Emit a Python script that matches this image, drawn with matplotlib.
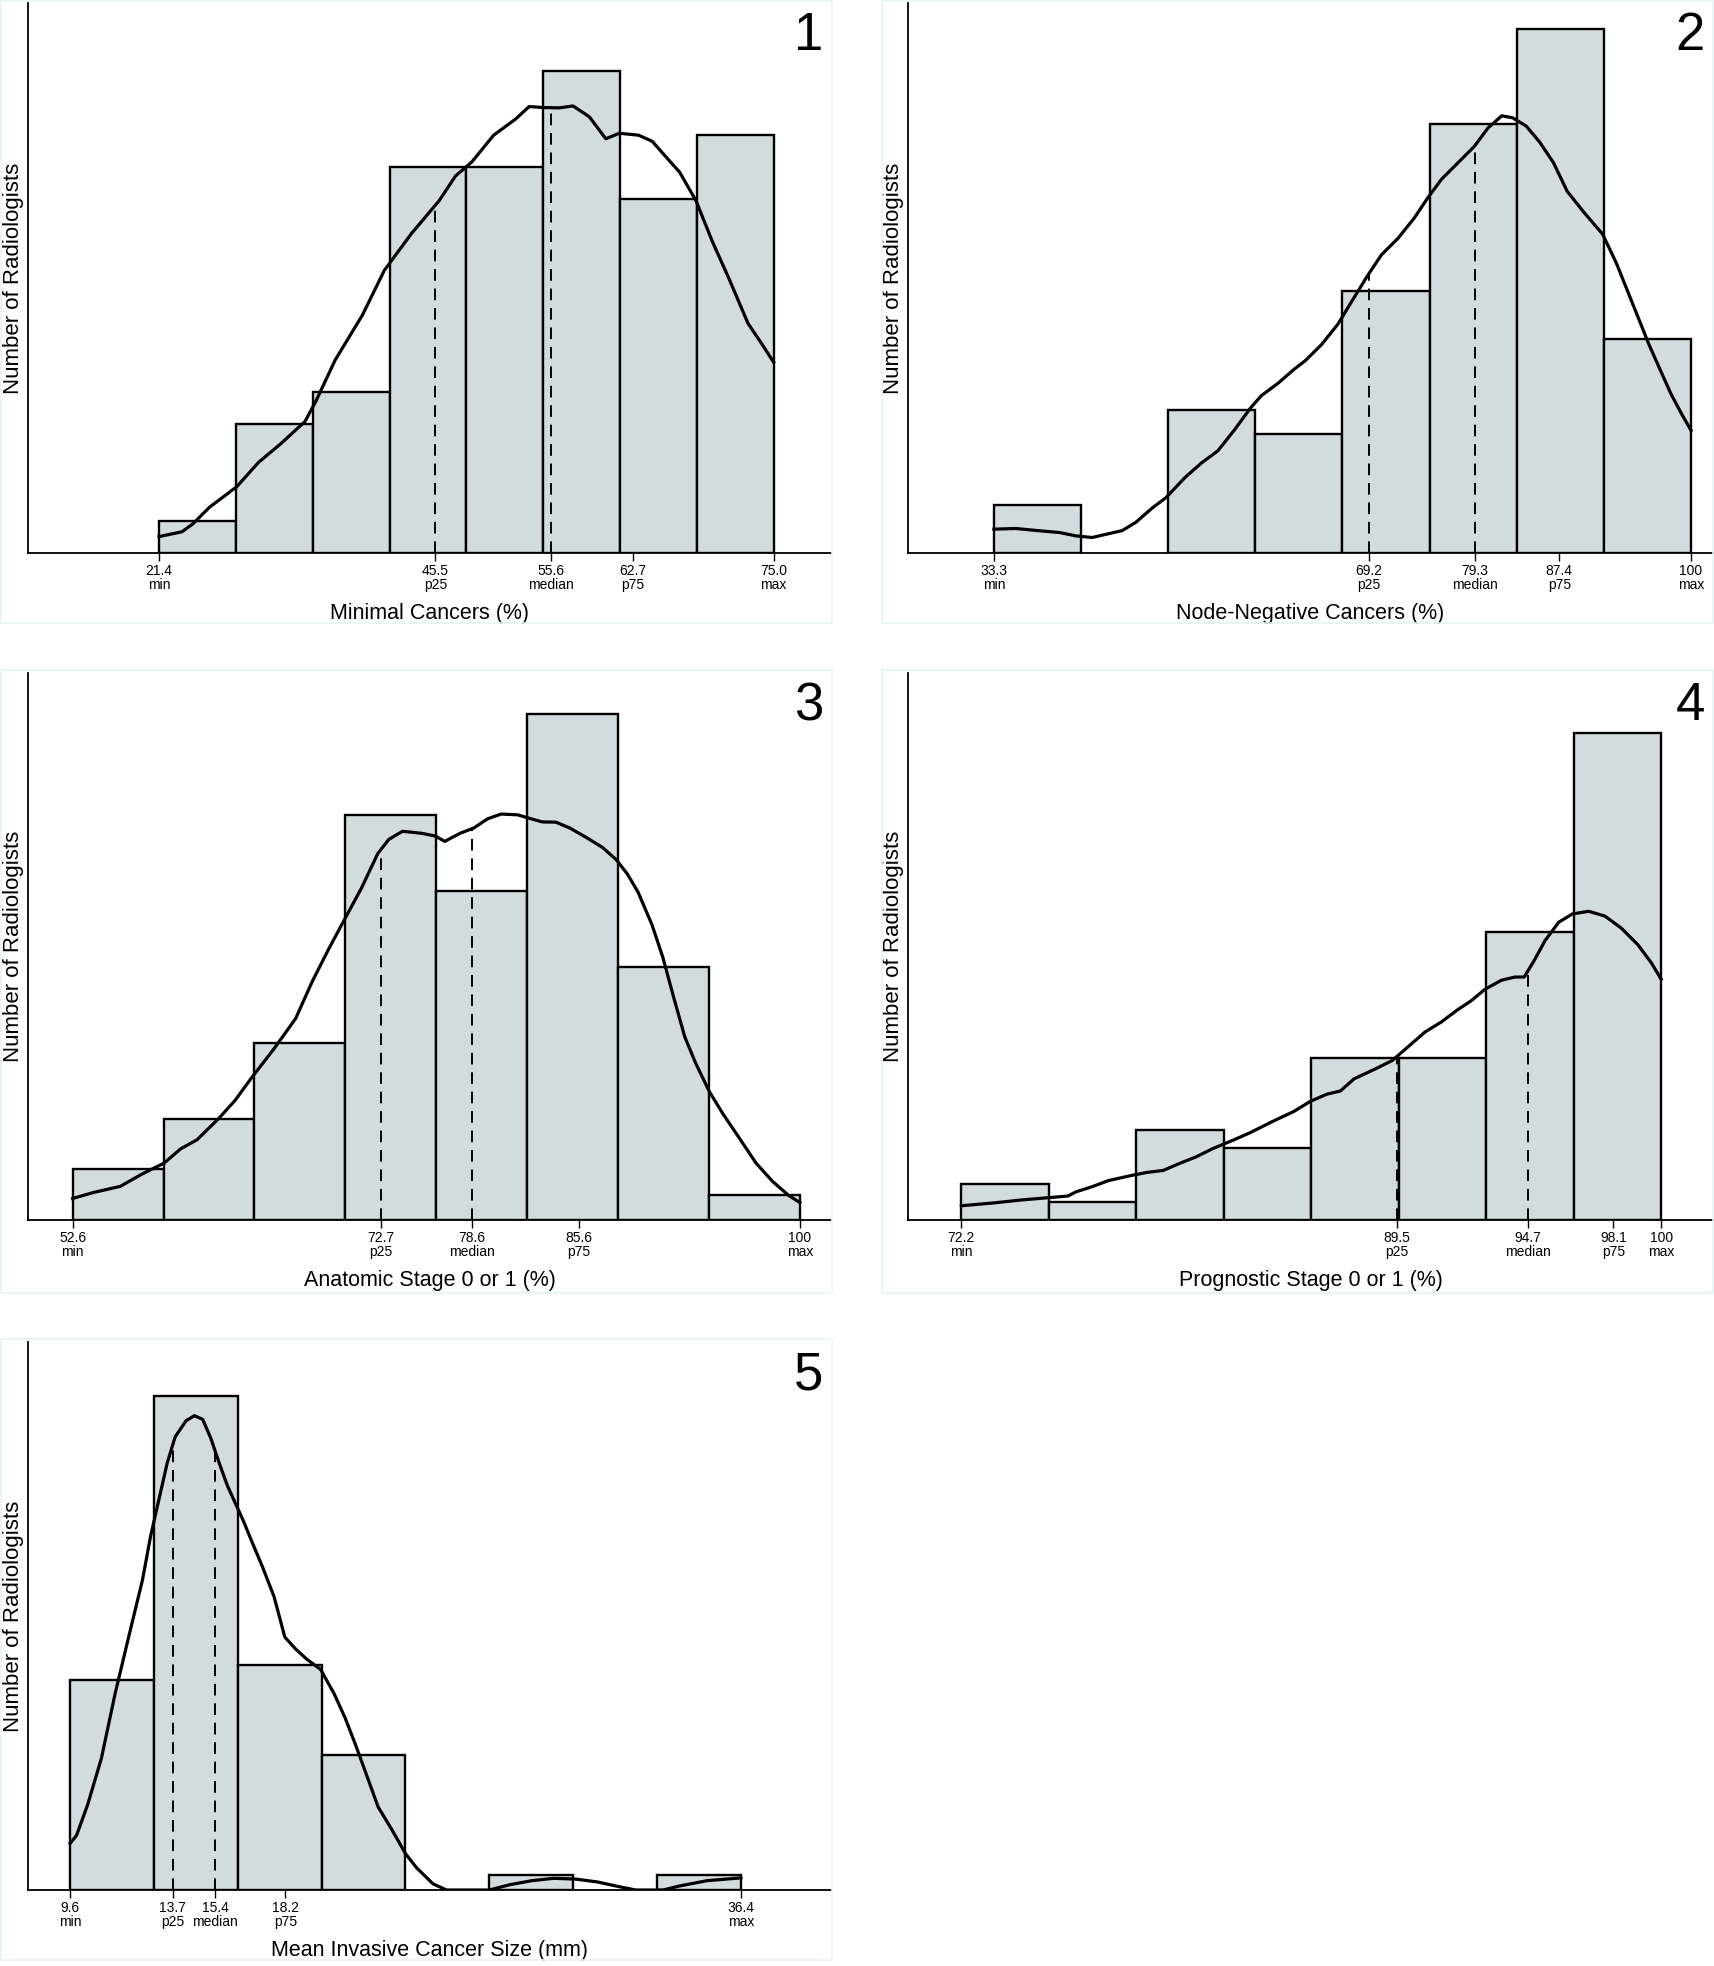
import numpy as np
import matplotlib
matplotlib.use("Agg")
import matplotlib.pyplot as plt
from matplotlib.patches import Rectangle

plt.rcParams['font.family'] = ['Liberation Sans', 'DejaVu Sans']

W, H = 1715, 1966
BAR_COLOR = '#d3dcdc'
BORDER_COLOR = '#e6f4f4'
NARROW = ['Liberation Sans Narrow', 'Liberation Sans', 'DejaVu Sans']

# ---- panel 1: minimal cancers
title1 = 'Minimal Cancers (%)'
counts1 = [1, 4, 5, 12, 12, 15, 11, 13]
stats1 = [21.4, 45.5, 55.6, 62.7, 75.0]
labels1 = ['21.4', '45.5', '55.6', '62.7', '75.0']
kx1 = [21.4, 23.40, 24.36, 25.79, 28.17, 30.08, 31.99, 34.13, 35.09, 36.76, 39.14,
       41.05, 43.43, 45.82, 47.25, 48.68, 50.58, 52.49, 53.68, 54.88, 56.31, 57.50,
       58.93, 60.36, 61.55, 63.22, 64.41, 65.37, 66.80, 68.23, 69.66, 71.09, 72.76,
       73.95, 75.0]
ky1 = [0.51, 0.66, 0.91, 1.42, 2.06, 2.82, 3.39, 4.09, 4.73, 6.00, 7.40,
       8.79, 9.94, 10.95, 11.72, 12.16, 12.99, 13.49, 13.88, 13.85, 13.84, 13.90,
       13.56, 12.88, 13.05, 12.99, 12.80, 12.41, 11.84, 10.95, 9.68, 8.54, 7.14,
       6.51, 5.93]

# ---- panel 2: node-negative cancers
title2 = 'Node-Negative Cancers (%)'
counts2 = [2, 0, 6, 5, 11, 18, 22, 9]
stats2 = [33.3, 69.2, 79.3, 87.4, 100]
labels2 = ['33.3', '69.2', '79.3', '87.4', '100']
kx2 = [33.30, 35.39, 37.48, 39.57, 41.13, 42.70, 44.27, 45.57, 46.88, 48.45, 49.75,
       51.58, 53.15, 54.72, 56.28, 57.85, 58.89, 60.46, 62.03, 63.07, 64.64, 66.21,
       67.51, 69.08, 70.39, 71.95, 73.52, 74.83, 76.13, 77.70, 79.27, 80.57, 81.88,
       82.92, 84.23, 85.53, 86.84, 88.15, 89.71, 91.54, 92.85, 94.41, 95.98, 97.02,
       98.07, 99.11, 100.0]
ky2 = [1.00, 1.03, 0.94, 0.86, 0.72, 0.65, 0.81, 0.94, 1.29, 1.89, 2.32,
       3.17, 3.78, 4.29, 5.15, 6.09, 6.61, 7.12, 7.72, 8.07, 8.75, 9.61,
       10.55, 11.67, 12.53, 13.21, 14.07, 14.93, 15.70, 16.39, 17.08, 17.85, 18.36,
       18.28, 17.93, 17.25, 16.39, 15.19, 14.33, 13.39, 12.18, 10.47, 8.75, 7.72,
       6.69, 5.83, 5.15]

# ---- panel 3: anatomic stage 0 or 1
title3 = 'Anatomic Stage 0 or 1 (%)'
counts3 = [2, 4, 7, 16, 13, 20, 10, 1]
stats3 = [52.6, 72.7, 78.6, 85.6, 100]
labels3 = ['52.6', '72.7', '78.6', '85.6', '100']
kx3 = [52.60, 53.92, 55.71, 57.14, 58.57, 59.64, 60.71, 62.14, 63.21, 64.28, 65.71,
       67.14, 68.21, 69.28, 70.35, 71.42, 72.49, 73.21, 74.10, 75.35, 76.25, 76.85,
       77.85, 78.75, 79.64, 80.53, 81.60, 82.50, 83.21, 84.10, 85.00, 86.07, 87.14,
       88.03, 88.75, 89.46, 90.36, 91.07, 91.79, 92.50, 93.21, 94.11, 95.00, 96.07,
       97.14, 98.21, 99.29, 100.0]
ky3 = [0.85, 1.08, 1.33, 1.82, 2.25, 2.81, 3.17, 4.02, 4.74, 5.63, 6.75,
       7.96, 9.41, 10.69, 11.90, 13.10, 14.47, 15.03, 15.35, 15.27, 15.16, 14.95,
       15.27, 15.48, 15.84, 16.03, 16.00, 15.84, 15.72, 15.71, 15.48, 15.11, 14.71,
       14.23, 13.67, 12.94, 11.66, 10.37, 8.76, 7.23, 6.19, 5.06, 4.18, 3.22,
       2.25, 1.53, 0.96, 0.69]

# ---- panel 4: prognostic stage 0 or 1
title4 = 'Prognostic Stage 0 or 1 (%)'
counts4 = [2, 1, 5, 4, 9, 9, 16, 27]
stats4 = [72.2, 89.5, 94.7, 98.1, 100]
labels4 = ['72.2', '89.5', '94.7', '98.1', '100']
kx4 = [72.20, 73.50, 74.58, 75.67, 76.43, 76.75, 77.40, 78.05, 78.92, 79.57, 80.22,
       80.87, 81.52, 82.17, 83.03, 83.68, 84.55, 85.42, 86.07, 86.72, 87.26, 87.80,
       88.67, 89.32, 89.97, 90.62, 91.27, 91.92, 92.46, 93.00, 93.65, 94.19, 94.56,
       94.95, 95.39, 95.93, 96.47, 97.12, 97.77, 98.42, 99.07, 99.61, 100.0]
ky4 = [0.79, 0.95, 1.11, 1.24, 1.33, 1.56, 1.85, 2.19, 2.46, 2.64, 2.75,
       3.14, 3.50, 3.95, 4.45, 4.85, 5.46, 6.03, 6.59, 6.98, 7.16, 7.83,
       8.40, 8.85, 9.64, 10.43, 10.99, 11.67, 12.17, 12.80, 13.30, 13.48, 13.48,
       14.38, 15.51, 16.52, 16.98, 17.13, 16.86, 16.19, 15.28, 14.27, 13.36]

# ---- panel 5: mean invasive cancer size
title5 = 'Mean Invasive Cancer Size (mm)'
counts5 = [14, 33, 15, 9, 0, 1, 0, 1]
stats5 = [9.6, 13.7, 15.4, 18.2, 36.4]
labels5 = ['9.6', '13.7', '15.4', '18.2', '36.4']
kx5 = [9.60, 9.86, 10.30, 10.85, 11.40, 11.94, 12.49, 12.82, 13.15, 13.48, 13.80,
       14.24, 14.57, 14.90, 15.23, 15.56, 15.88, 16.21, 16.54, 16.87, 17.31, 17.75,
       18.18, 18.62, 19.06, 19.61, 20.15, 20.59, 21.03, 21.47, 21.91, 22.45, 23.00,
       23.44, 24.10, 24.64, 25.41, 26.35, 27.16, 28.04, 28.91, 29.79, 30.66, 31.54,
       32.20, 33.29, 33.95, 35.04, 36.40]
ky5 = [3.11, 3.65, 5.68, 8.78, 13.11, 16.89, 20.68, 23.65, 26.08, 28.51, 30.27,
       31.35, 31.68, 31.43, 30.14, 28.51, 27.03, 25.81, 24.59, 23.24, 21.49, 19.59,
       16.89, 16.08, 15.41, 14.73, 13.11, 11.49, 9.59, 7.57, 5.54, 4.05, 2.43,
       1.49, 0.41, 0.0, 0.0, 0.0, 0.35, 0.62, 0.78, 0.73, 0.54, 0.22,
       0.0, 0.0, 0.27, 0.62, 0.81]

stat_names = ['min', 'p25', 'median', 'p75', 'max']

panels = [
    (title1, counts1, stats1, labels1, kx1, ky1, (9.97, 80.0), 17.1, '1'),
    (title2, counts2, stats2, labels2, kx2, ky2, (25.08, 102.1), 23.1, '2'),
    (title3, counts3, stats3, labels3, kx3, ky3, (49.69, 102.03), 21.6, '3'),
    (title4, counts4, stats4, labels4, kx4, ky4, (70.08, 102.06), 30.35, '4'),
    (title5, counts5, stats5, labels5, kx5, ky5, (7.92, 40.0), 36.6, '5'),
]

# axes boxes in pixels: left, right, top, bottom ; panel frame: left, right, top, bottom
ax_px = [(28, 831, 3, 553), (908, 1713, 3, 553),
         (28, 831, 673, 1220), (908, 1713, 673, 1220),
         (28, 831, 1342, 1890)]
frame_px = [(1, 832, 1, 623), (882, 1713, 1, 623),
            (1, 832, 670, 1293), (882, 1713, 670, 1293),
            (1, 832, 1339, 1960)]

fig = plt.figure(figsize=(W / 100, H / 100), dpi=100)
fig.patch.set_facecolor('white')

for (title, counts, stats, labels, kx, ky, xlim, ytop, num), (l, r, t, b), (fl, fr, ft, fb) in zip(panels, ax_px, frame_px):
    fig.add_artist(Rectangle((fl / W, 1 - fb / H), (fr - fl) / W, (fb - ft) / H,
                             transform=fig.transFigure, facecolor='none',
                             edgecolor=BORDER_COLOR, linewidth=1.2))
    ax = fig.add_axes([l / W, 1 - b / H, (r - l) / W, (b - t) / H])

    edges = np.linspace(stats[0], stats[-1], len(counts) + 1)
    widths = np.diff(edges)
    for e, w, c in zip(edges[:-1], widths, counts):
        if c > 0:
            ax.bar(e, c, width=w, align='edge', color=BAR_COLOR,
                   edgecolor='black', linewidth=1.7, zorder=2)

    ax.plot(kx, ky, color='black', linewidth=2.3, zorder=4)

    for v in (stats[1], stats[2]):
        ax.vlines(v, 0, np.interp(v, kx, ky), colors='black', linestyles=(0, (6, 4)),
                  linewidth=1.4, zorder=3)

    ax.set_xlim(*xlim)
    ax.set_ylim(0, ytop)
    ax.set_yticks([])
    ax.set_xticks(stats)
    ax.set_xticklabels([f'{s}\n{n}' for s, n in zip(labels, stat_names)],
                       family=NARROW, fontsize=10, linespacing=0.95)
    ax.tick_params(axis='x', length=6, width=1.0, pad=2, color='black')
    for side in ('top', 'right'):
        ax.spines[side].set_visible(False)
    ax.spines['left'].set_linewidth(1.3)
    ax.spines['bottom'].set_linewidth(1.3)
    ax.set_facecolor('white')

    ax.set_xlabel(title, fontsize=15.5, labelpad=8)
    ax.set_ylabel('Number of Radiologists', fontsize=16, labelpad=3)
    ax.text(0.99, 0.985, num, transform=ax.transAxes, ha='right', va='top',
            fontsize=38)

fig.savefig('out.png', dpi=100, facecolor='white')
